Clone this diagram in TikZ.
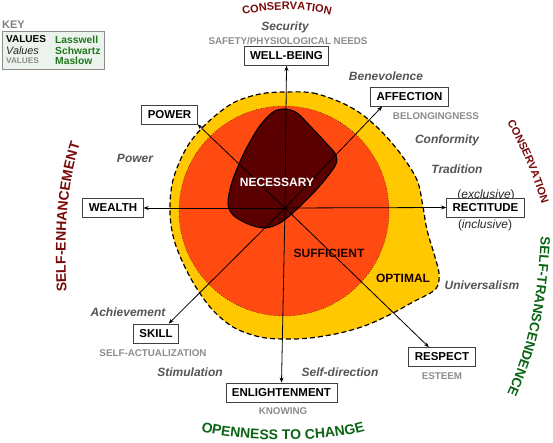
\documentclass[tikz,border=0pt]{standalone}
\usepackage{fontspec}
\setmainfont{Liberation Sans}
\usetikzlibrary{arrows.meta,decorations.text}
\definecolor{redfill}{RGB}{255,74,18}
\definecolor{yelfill}{RGB}{255,200,0}
\definecolor{blobfill}{RGB}{90,0,0}
\definecolor{dred}{RGB}{120,10,10}
\definecolor{dgreen}{RGB}{10,100,20}
\definecolor{kgreen}{RGB}{30,120,30}
\definecolor{valgray}{RGB}{85,85,85}
\definecolor{needgray}{RGB}{140,140,140}
\definecolor{keybg}{RGB}{236,242,236}
\begin{document}
\begin{tikzpicture}[x=1pt,y=-1pt,
  valbox/.style={draw=black!75, fill=white, line width=0.9pt, font=\bfseries\fontsize{11.5}{13}\selectfont, inner xsep=6pt, inner ysep=0pt, minimum height=19pt},
  vallab/.style={font=\bfseries\itshape\fontsize{12}{14}\selectfont, text=valgray, inner sep=0pt},
  needlab/.style={font=\bfseries\fontsize{9.8}{11}\selectfont, text=needgray, inner sep=0pt},
  paren/.style={font=\fontsize{12}{14}\selectfont, text=black!85, inner sep=0pt},
  zonelab/.style={font=\bfseries\fontsize{12}{14}\selectfont, inner sep=0pt},
  ray/.style={line width=0.8pt, -{Stealth[length=5pt,width=4pt]}},
  keylab/.style={font=\bfseries\fontsize{10}{12}\selectfont, anchor=west, inner sep=0pt},
]
\useasboundingbox (0,0) rectangle (553,443);
% optimal region
\draw[fill=yelfill, line width=1.2pt, dash pattern=on 5pt off 3pt]
  plot[smooth cycle, tension=0.55] coordinates {(285,92) (313,93) (340,102) (360,113) (380,130) (400,153) (417,180) (423,207) (427,230) (435,257) (439,273) (438,285) (432,292) (413,302) (393,313) (367,325) (340,333) (310,338) (285,339) (260,337) (233,327) (210,307) (190,277) (175,243) (170,213) (173,180) (187,147) (207,123) (233,103) (260,94)};
% sufficient circle
\draw[fill=redfill, dotted, line width=0.5pt] (284,211) circle[radius=105pt];
% necessary blob
\draw[fill=blobfill, line width=1.1pt]
  plot[smooth cycle, tension=0.5] coordinates {(285,109) (297,113) (312,128) (326,143) (336,155) (335,166) (318,188) (296,210) (280,223) (265,228) (248,224) (233,215) (228,203) (232,182) (244,153) (259,127) (273,112)};
% key
\node[font=\bfseries\fontsize{11}{13}\selectfont, text=black!50, anchor=west, inner sep=0pt] (keyt) at (2,24.5) {KEY};
\node[draw=black!45, fill=keybg, line width=1pt, minimum width=102pt, minimum height=38pt, anchor=north west, inner sep=0pt] (keybox) at (2,31) {};
\node[keylab] (k1) at (6,39.5) {VALUES};
\node[keylab, font=\bfseries\fontsize{10.3}{12}\selectfont, text=kgreen] (k2) at (55,40) {Lasswell};
\node[keylab, font=\itshape\fontsize{10.8}{12}\selectfont, text=black!85] (k3) at (6,51) {Values};
\node[keylab, font=\bfseries\fontsize{10.3}{12}\selectfont, text=kgreen] (k4) at (55,51) {Schwartz};
\node[keylab, font=\bfseries\fontsize{8.2}{10}\selectfont, text=needgray] (k5) at (6,61) {VALUES};
\node[keylab, font=\bfseries\fontsize{10.3}{12}\selectfont, text=kgreen] (k6) at (55,61) {Maslow};
% labels and boxes
\node[vallab] (sec) at (285,27) {Security};
\node[needlab] (safety) at (288,41) {SAFETY/PHYSIOLOGICAL NEEDS};
\node[valbox] (wellbeing) at (286.5,56) {WELL-BEING};
\node[vallab] (bene) at (386,76) {Benevolence};
\node[valbox] (affection) at (409.5,96.5) {AFFECTION};
\node[needlab] (belong) at (436,116) {BELONGINGNESS};
\node[vallab] (conf) at (447,140) {Conformity};
\node[vallab] (trad) at (457,169) {Tradition};
\node[paren] (excl) at (486,195) {(\textit{exclusive})};
\node[valbox] (rect) at (485.5,207.5) {RECTITUDE};
\node[paren] (incl) at (485,225) {(\textit{inclusive})};
\node[vallab] (univ) at (482,285) {Universalism};
\node[valbox] (respect) at (442,357) {RESPECT};
\node[needlab] (esteem) at (442,376) {ESTEEM};
\node[vallab] (selfdir) at (340,372) {Self-direction};
\node[vallab] (stim) at (190,372) {Stimulation};
\node[valbox] (enlight) at (281.5,392.5) {ENLIGHTENMENT};
\node[needlab] (knowing) at (283,411) {KNOWING};
\node[valbox] (skill) at (156,333.5) {SKILL};
\node[needlab] (selfact) at (153,353) {SELF-ACTUALIZATION};
\node[vallab] (achieve) at (128,312) {Achievement};
\node[valbox] (wealth) at (113,208) {WEALTH};
\node[vallab] (powerv) at (135,158) {Power};
\node[valbox] (power) at (169.5,114.5) {POWER};
% rays
\coordinate (c) at (285,208);
\draw[ray] (c) -- (wellbeing.south);
\draw[ray] (c) -- (enlight.north);
\draw[ray] (c) -- (wealth.east);
\draw[ray] (c) -- (rect.west);
\draw[ray] (c) -- (power.south east);
\draw[ray] (c) -- (respect.143);
\draw[ray] (c) -- (skill.38);
\draw[ray] (c) -- (affection.200);
% zone labels
\node[zonelab, text=white] (nec) at (277,182) {NECESSARY};
\node[zonelab, text=black!90!red] (suff) at (329,253) {SUFFICIENT};
\node[zonelab, text=black!90!red] (opt) at (403,278.5) {OPTIMAL};
% curved group labels
\path[decorate, decoration={text along path, text align=center, text={|\bfseries\fontsize{11}{13}\selectfont\color{dred}|CONSERVATION}}]
  (243,15) .. controls (272,8) and (302,8) .. (331,15);
\path[decorate, decoration={text along path, text align=center, text={|\bfseries\fontsize{11}{13}\selectfont\color{dred}|CONSERVATION}}]
  (505,119) .. controls (521,147) and (534,177) .. (543,208);
\path[decorate, decoration={text along path, text align=center, text={|\bfseries\fontsize{13.5}{15}\selectfont\color{dgreen}|SELF-TRANSCENDENCE}}]
  (541,232) .. controls (538,300) and (530,345) .. (505,398);
\path[decorate, decoration={text along path, text align=center, text={|\bfseries\fontsize{14}{16}\selectfont\color{dgreen}|OPENNESS TO CHANGE}}]
  (198,430) .. controls (235,443) and (330,443) .. (368,430);
\path[decorate, decoration={text along path, text align=center, text={|\bfseries\fontsize{14}{16}\selectfont\color{dred}|SELF-ENHANCEMENT}}]
  (67,300) .. controls (64,250) and (64,185) .. (83,136);
\end{tikzpicture}
\end{document}
